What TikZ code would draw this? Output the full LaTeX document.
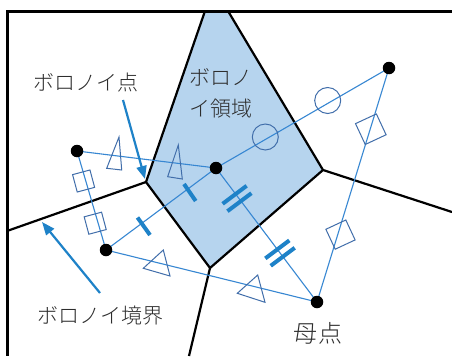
\documentclass[tikz,border=0pt]{standalone}
\usepackage{fontspec}
\newfontfamily\jp{Noto Sans CJK JP Light}
\usetikzlibrary{arrows.meta}
\definecolor{fillb}{RGB}{182,212,238}
\definecolor{lineb}{RGB}{55,135,210}
\definecolor{markb}{RGB}{65,110,170}
\definecolor{barb}{RGB}{30,130,200}
\definecolor{txt}{RGB}{45,45,45}
\begin{document}
\begin{tikzpicture}[x=1pt,y=-1pt,
  frame/.style={line width=3pt,black},
  vedge/.style={line width=2.2pt,black,line join=miter},
  dedge/.style={line width=1.1pt,lineb},
  site/.style={circle,fill=black,inner sep=0pt,minimum size=12.5pt},
  sqmark/.style={draw=markb,line width=1pt,rectangle,inner sep=0pt,minimum size=#1},
  cmark/.style={draw=markb,line width=1pt,circle,inner sep=0pt,minimum size=26pt},
  tmark/.style={draw=markb,line width=1pt,line join=miter},
  barmark/.style={line width=4pt,barb},
  arr/.style={line width=2.2pt,barb,-{Triangle[length=13pt,width=10pt]}},
  lab/.style={inner sep=0pt,text=txt,font=\jp\fontsize{21}{31}\selectfont}]
\useasboundingbox (0,0) rectangle (452,356);
\fill[white] (0,0) rectangle (452,356);
% Voronoi vertices and boundary ends
\coordinate (T1) at (205,11);
\coordinate (T2) at (228,11);
\coordinate (V1) at (146,182);
\coordinate (V2) at (210,268);
\coordinate (V3) at (323,170);
\coordinate (EL) at (7,231);
\coordinate (EB) at (189,356);
\coordinate (ER) at (452,212);
% Voronoi region
\fill[fillb] (T1) -- (T2) -- (V3) -- (V2) -- (V1) -- cycle;
% Voronoi boundaries
\draw[vedge] (T1) -- (V1) -- (V2) -- (V3) -- (T2);
\draw[vedge] (V1) -- (EL);
\draw[vedge] (V2) -- (EB);
\draw[vedge] (V3) -- (ER);
% frame
\coordinate (F0) at (7,11);
\coordinate (F1) at (452,11);
\coordinate (F2) at (7,356);
\draw[frame] (F1) -- (F0) -- (F2);
% generator points
\coordinate (A) at (77,151);
\coordinate (B) at (216,168);
\coordinate (C) at (106,250);
\coordinate (D) at (389,68);
\coordinate (E) at (317,302);
% Delaunay edges
\draw[dedge] (A) -- (B);
\draw[dedge] (A) -- (C);
\draw[dedge] (C) -- (B);
\draw[dedge] (B) -- (D);
\draw[dedge] (B) -- (E);
\draw[dedge] (C) -- (E);
\draw[dedge] (D) -- (E);
% equal-length marks
\draw[tmark] (119,137) -- (106.7,168.3) -- (121.7,170) -- cycle;
\draw[tmark] (178.3,145) -- (167.7,176.7) -- (182.3,179) -- cycle;
\draw[tmark] (143.3,268.3) -- (163.3,250) -- (170,276) -- cycle;
\draw[tmark] (237.3,293.3) -- (257.7,275) -- (265,302.3) -- cycle;
\node[sqmark=18pt,rotate=15] (s1) at (83.6,181) {};
\node[sqmark=18pt,rotate=15] (s2) at (95.2,223.2) {};
\node[sqmark=23pt,rotate=25] (s3) at (370.8,129.2) {};
\node[sqmark=22pt,rotate=25] (s4) at (340.5,234.6) {};
\node[cmark] (c1) at (265.3,137) {};
\node[cmark] (c2) at (327.7,100.5) {};
\draw[barmark] (137.5,217.5) -- (150,235);
\draw[barmark] (184,184) -- (195.7,201);
\draw[barmark] (222.6,203.8) -- (246.6,185.8);
\draw[barmark] (227.4,211.2) -- (251.4,193.2);
\draw[barmark] (265.3,258.4) -- (289.3,240.4);
\draw[barmark] (270.7,265.8) -- (294.7,247.8);
% dots
\node[site] (Ad) at (A) {};
\node[site] (Bd) at (B) {};
\node[site] (Cd) at (C) {};
\node[site] (Dd) at (D) {};
\node[site] (Ed) at (E) {};
% labels
\node[lab] (l1) at (86,83) {ボロノイ点};
\node[lab,align=center] (l2) at (221,93) {ボロノ\\イ領域};
\node[lab] (l3) at (100,316) {ボロノイ境界};
\node[lab,font=\jp\fontsize{24}{28}\selectfont] (l4) at (318,333) {母\kern1pt 点};
% arrows
\coordinate (a1s) at (123,100);
\coordinate (a1e) at (145,179);
\coordinate (a2s) at (100,293);
\coordinate (a2e) at (42,222);
\draw[arr] (a1s) -- (a1e);
\draw[arr] (a2s) -- (a2e);
\end{tikzpicture}
\end{document}
